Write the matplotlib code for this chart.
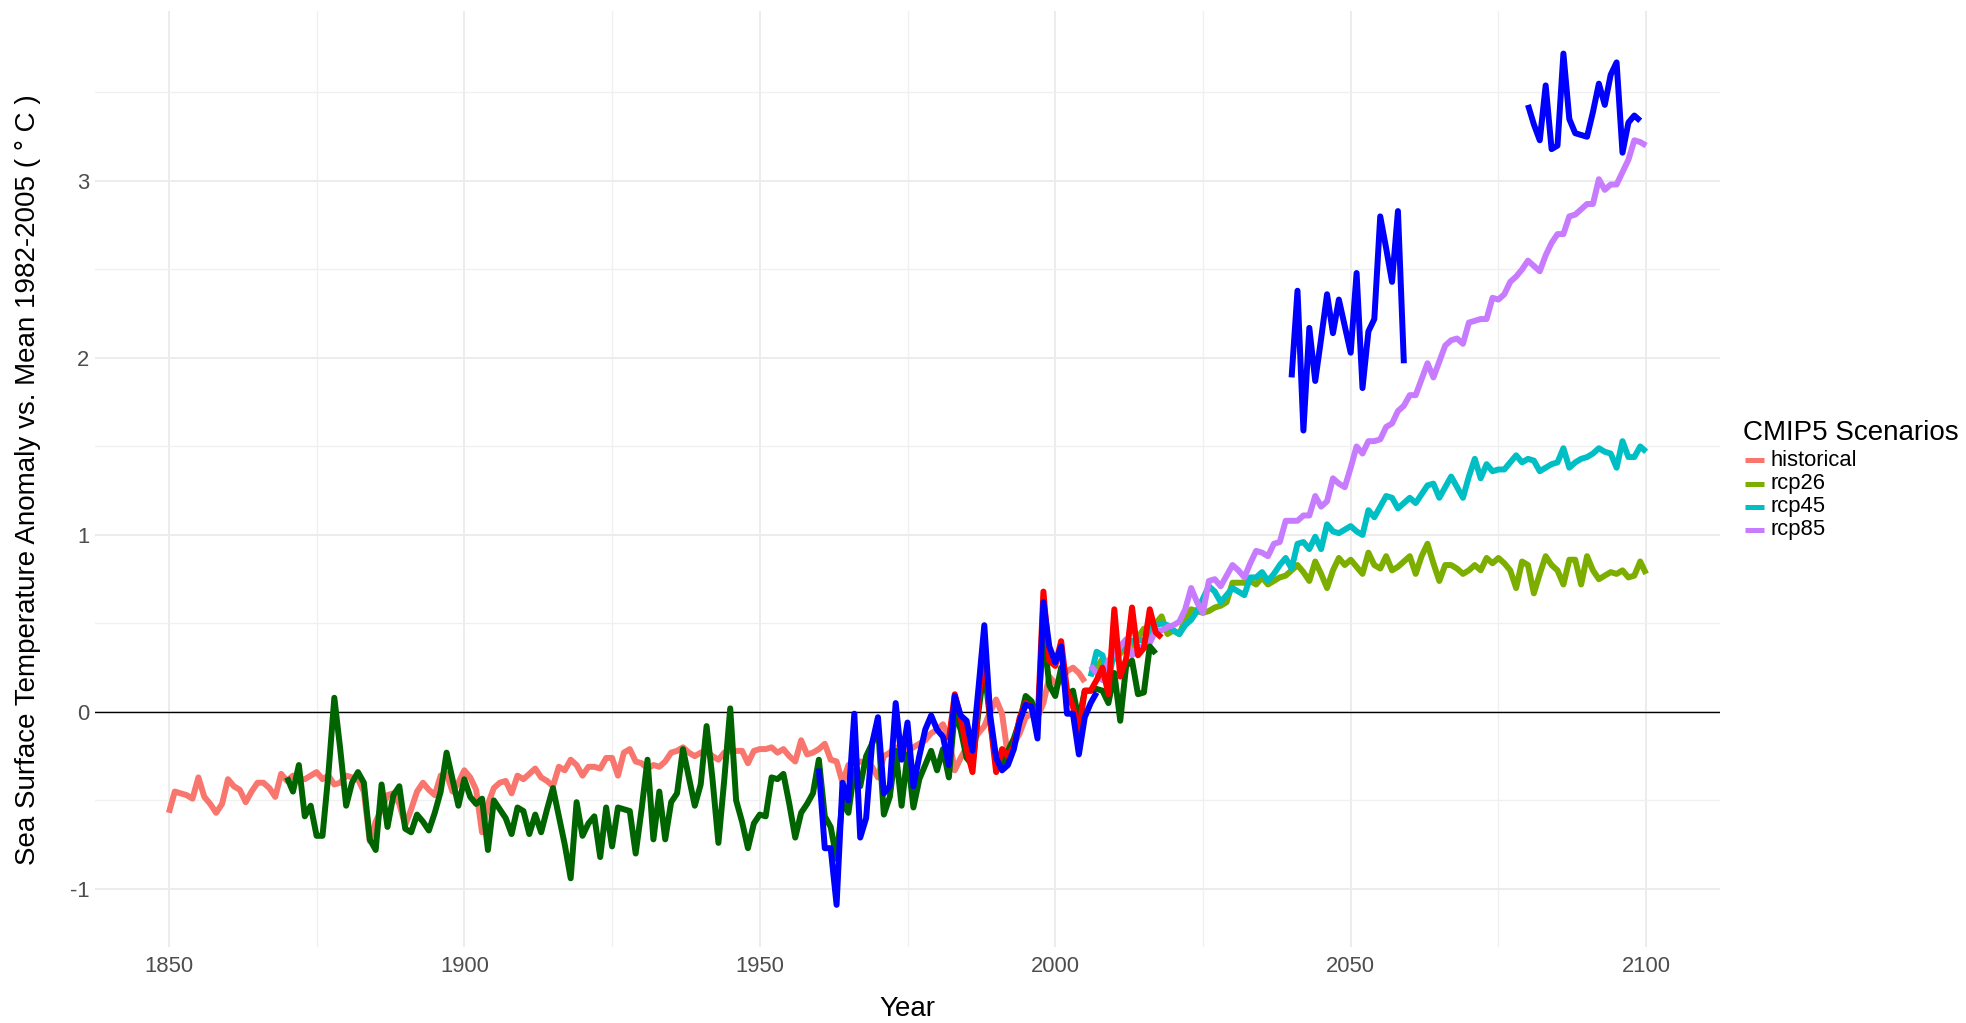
import numpy as np
import matplotlib
matplotlib.use("Agg")
import matplotlib.pyplot as plt
from matplotlib.lines import Line2D

plt.rcParams['font.family'] = ['Liberation Sans', 'DejaVu Sans']

# CMIP5 ensemble SST anomaly (deg C vs. 1982-2005 mean)
hist_start = 1850
historical = [
    -0.57, -0.45, -0.46, -0.47, -0.49, -0.37, -0.48, -0.52, -0.57, -0.52,
    -0.38, -0.42, -0.44, -0.51, -0.45, -0.40, -0.40, -0.43, -0.48, -0.35,
    -0.39, -0.36, -0.38, -0.38, -0.36, -0.34, -0.38, -0.36, -0.41, -0.40,
    -0.36, -0.37, -0.38, -0.45, -0.73, -0.62, -0.55, -0.47, -0.46, -0.52,
    -0.64, -0.55, -0.45, -0.40, -0.44, -0.47, -0.36, -0.35, -0.45, -0.40,
    -0.33, -0.37, -0.44, -0.68, -0.52, -0.43, -0.40, -0.39, -0.46, -0.36,
    -0.38, -0.35, -0.32, -0.37, -0.39, -0.42, -0.31, -0.33, -0.27, -0.30,
    -0.36, -0.31, -0.31, -0.32, -0.26, -0.26, -0.36, -0.23, -0.21, -0.28,
    -0.29, -0.32, -0.30, -0.31, -0.28, -0.23, -0.22, -0.20, -0.23, -0.25,
    -0.23, -0.22, -0.25, -0.27, -0.23, -0.22, -0.22, -0.22, -0.29, -0.22,
    -0.21, -0.21, -0.20, -0.23, -0.21, -0.25, -0.28, -0.16, -0.24, -0.23,
    -0.21, -0.18, -0.27, -0.28, -0.40, -0.30, -0.28, -0.28, -0.29, -0.31,
    -0.37, -0.25, -0.23, -0.20, -0.22, -0.22, -0.20, -0.18, -0.16, -0.12,
    -0.10, -0.07, -0.15, -0.33, -0.26, -0.20, -0.17, -0.12, -0.08, 0.00,
    0.07, -0.01, -0.25, -0.18, -0.12, -0.03, -0.01, -0.03, 0.05, 0.20,
    0.16, 0.17, 0.23, 0.25, 0.22, 0.17,
]

rcp_start = 2006
rcp26 = [
    0.24, 0.25, 0.30, 0.27, 0.30, 0.33, 0.38, 0.37, 0.42, 0.47,
    0.48, 0.50, 0.54, 0.44, 0.46, 0.44, 0.52, 0.58, 0.57, 0.56,
    0.57, 0.59, 0.60, 0.62, 0.73, 0.73, 0.73, 0.74, 0.72, 0.76,
    0.72, 0.74, 0.76, 0.77, 0.80,
    0.83, 0.79, 0.74, 0.85, 0.78, 0.70, 0.80, 0.87, 0.83, 0.86,
    0.82, 0.78, 0.90, 0.83, 0.81, 0.88, 0.80, 0.82, 0.85, 0.88,
    0.78, 0.88, 0.95, 0.84, 0.74, 0.83, 0.83, 0.81, 0.78, 0.80,
    0.83, 0.80, 0.87, 0.84, 0.87, 0.84, 0.80, 0.70, 0.85, 0.83,
    0.67, 0.78, 0.88, 0.83, 0.80, 0.72, 0.86, 0.86, 0.72, 0.88,
    0.80, 0.75, 0.77, 0.79, 0.78, 0.80, 0.76, 0.77, 0.85, 0.78,
]
rcp45 = [
    0.20, 0.34, 0.32, 0.18, 0.34, 0.35, 0.37, 0.40, 0.41, 0.40,
    0.46, 0.49, 0.50, 0.49, 0.46, 0.44, 0.49, 0.52, 0.57, 0.64,
    0.71, 0.68, 0.62, 0.66, 0.70, 0.68, 0.66, 0.76, 0.76, 0.79,
    0.74, 0.78, 0.83, 0.87, 0.81, 0.95, 0.96, 0.92, 0.99, 0.92,
    1.06, 1.02, 1.01, 1.03, 1.05, 1.02, 1.00, 1.14, 1.10, 1.16,
    1.22, 1.21, 1.15, 1.18, 1.21, 1.18, 1.23, 1.28, 1.29, 1.21,
    1.27, 1.33, 1.27, 1.21, 1.33, 1.43, 1.32, 1.40, 1.36, 1.37,
    1.37, 1.41, 1.45, 1.41, 1.43, 1.42, 1.36, 1.38, 1.40, 1.41,
    1.49, 1.38, 1.41, 1.43, 1.44, 1.46, 1.49, 1.47, 1.46, 1.38,
    1.53, 1.44, 1.44, 1.50, 1.47,
]
rcp85 = [
    0.26, 0.22, 0.18, 0.29, 0.33, 0.37, 0.41, 0.32, 0.37, 0.36,
    0.39, 0.46, 0.46, 0.48, 0.49, 0.51, 0.58, 0.70, 0.62, 0.56,
    0.74, 0.75, 0.71, 0.77, 0.83, 0.80, 0.76, 0.84, 0.91, 0.90,
    0.88, 0.95, 0.96, 1.08, 1.08, 1.08, 1.11, 1.11, 1.22, 1.16,
    1.19, 1.32, 1.29, 1.27, 1.38, 1.50, 1.46, 1.53, 1.53, 1.54,
    1.61, 1.63, 1.70, 1.73, 1.79, 1.79, 1.88, 1.97, 1.89, 1.98,
    2.07, 2.10, 2.11, 2.08, 2.20, 2.21, 2.22, 2.22, 2.34, 2.33,
    2.36, 2.43, 2.46, 2.50, 2.55, 2.52, 2.49, 2.58, 2.65, 2.70,
    2.70, 2.80, 2.81, 2.84, 2.87, 2.87, 3.01, 2.95, 2.98, 2.98,
    3.05, 3.12, 3.23, 3.22, 3.20,
]

# observed records and single-model runs
obs_green_start = 1870
obs_green = [
    -0.37, -0.45, -0.30, -0.59, -0.53, -0.70, -0.70, -0.35, 0.08, -0.21,
    -0.53, -0.40, -0.34, -0.40, -0.72, -0.78, -0.41, -0.65, -0.47, -0.42,
    -0.66, -0.68, -0.58, -0.62, -0.67, -0.57, -0.45, -0.23, -0.38, -0.53,
    -0.38, -0.48, -0.52, -0.49, -0.78, -0.50, -0.55, -0.60, -0.69, -0.54,
    -0.56, -0.69, -0.58, -0.68, -0.55, -0.43, -0.59, -0.75, -0.94, -0.51,
    -0.70, -0.63, -0.59, -0.82, -0.54, -0.76, -0.54, -0.55, -0.56, -0.80,
    -0.55, -0.27, -0.72, -0.45, -0.72, -0.51, -0.46, -0.21, -0.37, -0.53,
    -0.41, -0.08, -0.38, -0.74, -0.38, 0.02, -0.50, -0.62, -0.77, -0.63,
    -0.58, -0.59, -0.37, -0.38, -0.35, -0.52, -0.71, -0.57, -0.52, -0.46,
    -0.27, -0.59, -0.65, -0.83, -0.50, -0.57, -0.33, -0.42, -0.25, -0.18,
    -0.08, -0.58, -0.48, -0.22, -0.53, -0.24, -0.54, -0.38, -0.30, -0.22,
    -0.33, -0.21, -0.37, 0.00, -0.10, -0.26, -0.30, 0.00, 0.25, -0.05,
    -0.28, -0.30, -0.22, -0.15, -0.05, 0.09, 0.06, -0.05, 0.45, 0.15,
    0.09, 0.25, 0.10, 0.12, -0.05, 0.12, 0.12, 0.13, 0.12, 0.05,
    0.22, -0.05, 0.26, 0.29, 0.10, 0.11, 0.37, 0.33,
]

obs_red_start = 1982
obs_red = [
    -0.16, 0.10, -0.03, -0.21, -0.34, 0.05, 0.39, -0.05, -0.34, -0.21,
    -0.25, -0.19, -0.03, 0.05, 0.03, -0.08, 0.68, 0.29, 0.26, 0.40,
    0.12, 0.03, -0.11, 0.12, 0.12, 0.18, 0.25, 0.10, 0.58, 0.20,
    0.30, 0.59, 0.32, 0.36, 0.58, 0.45, 0.42,
]

# blue run: three separate windows
blue_a_start = 1960
blue_a = [
    -0.32, -0.77, -0.77, -1.09, -0.40, -0.50, -0.01, -0.71, -0.60, -0.18,
    -0.03, -0.46, -0.42, 0.05, -0.27, -0.06, -0.42, -0.25, -0.10, -0.02,
    -0.10, -0.14, -0.30, 0.09, -0.02, -0.05, -0.22, 0.13, 0.49, -0.02,
    -0.26, -0.33, -0.30, -0.21, -0.05, 0.04, 0.03, -0.15, 0.62, 0.37,
    0.28, 0.37, -0.01, -0.01, -0.24, -0.03, 0.05, 0.11,
]
blue_b_start = 2040
blue_b = [
    1.89, 2.38, 1.59, 2.17, 1.87, 2.11, 2.36, 2.14, 2.33, 2.18,
    2.03, 2.48, 1.83, 2.15, 2.22, 2.80, 2.62, 2.43, 2.83, 1.97,
]
blue_c_start = 2080
blue_c = [
    3.43, 3.32, 3.23, 3.54, 3.18, 3.20, 3.72, 3.35, 3.27, 3.26,
    3.25, 3.39, 3.55, 3.43, 3.60, 3.67, 3.16, 3.33, 3.37, 3.34,
]

scenario_names = ['historical', 'rcp26', 'rcp45', 'rcp85']
scenario_colors = ['#F8766D', '#7CAE00', '#00BFC4', '#C77CFF']


def yrs(start, vals):
    return np.arange(start, start + len(vals))


W, H = 1966, 1023
fig = plt.figure(figsize=(W / 100, H / 100), dpi=100)
ax = fig.add_axes([95 / W, 1 - 947.4 / H, (1720 - 95) / W, (947.4 - 11) / H])

lw = 4.3
line_kw = dict(linewidth=lw, solid_capstyle='butt', solid_joinstyle='round')

ax.axhline(0, color='black', linewidth=1.0, zorder=1.5)

scen_series = [(hist_start, historical), (rcp_start, rcp26),
               (rcp_start, rcp45), (rcp_start, rcp85)]
for (start, vals), col in zip(scen_series, scenario_colors):
    ax.plot(yrs(start, vals), vals, color=col, zorder=2, **line_kw)

ax.plot(yrs(obs_green_start, obs_green), obs_green, color='#006400', zorder=3, **line_kw)
ax.plot(yrs(obs_red_start, obs_red), obs_red, color='#FF0000', zorder=4, **line_kw)
for start, vals in [(blue_a_start, blue_a), (blue_b_start, blue_b), (blue_c_start, blue_c)]:
    ax.plot(yrs(start, vals), vals, color='#0000FF', zorder=5, **line_kw)

# ggplot-like expansion of 5% on each side
all_vals = np.concatenate([historical, rcp26, rcp45, rcp85, obs_green, obs_red,
                           blue_a, blue_b, blue_c])
ylo, yhi = all_vals.min(), all_vals.max()
pad = 0.05 * (yhi - ylo)
ax.set_ylim(ylo - pad, yhi + pad)
ax.set_xlim(1850 - 0.05 * 250, 2100 + 0.05 * 250)

ax.set_xticks(np.arange(1850, 2101, 50))
ax.set_xticks(np.arange(1875, 2100, 50), minor=True)
ax.set_yticks(np.arange(-1, 4, 1))
ax.set_yticks(np.arange(-0.5, 4.0, 1), minor=True)
ax.set_yticklabels(['-1', '0', '1', '2', '3'])
ax.grid(which='major', color='#EBEBEB', linewidth=1.3)
ax.grid(which='minor', color='#F0F0F0', linewidth=1.0)
ax.set_axisbelow(True)
ax.tick_params(which='both', length=0)
ax.tick_params(axis='x', labelsize=15.8, labelcolor='#4D4D4D', pad=6)
ax.tick_params(axis='y', labelsize=15.8, labelcolor='#4D4D4D', pad=4)
for s in ax.spines.values():
    s.set_visible(False)

ax.set_xlabel('Year', fontsize=20, va='center')
ax.xaxis.set_label_coords(0.5, (947.4 - 1009) / (947.4 - 11))
ax.set_ylabel('Sea Surface Temperature Anomaly vs. Mean 1982-2005 ( \u00b0 C )',
              fontsize=20, va='center')
ax.yaxis.set_label_coords((27.6 - 95) / (1720 - 95), 0.5)

# legend
fig.text(1743 / W, 1 - 432.5 / H, 'CMIP5 Scenarios', fontsize=20,
         ha='left', va='center')
key_y = [460, 483.5, 506.5, 530]
for name, col, yk in zip(scenario_names, scenario_colors, key_y):
    fig.add_artist(Line2D([1745 / W, 1764 / W], [1 - yk / H, 1 - yk / H],
                          color=col, linewidth=3.6, solid_capstyle='butt'))
    fig.text(1770 / W, 1 - yk / H, name, fontsize=15.8, ha='left', va='center')

fig.savefig('out.png', dpi=100, facecolor='white')
